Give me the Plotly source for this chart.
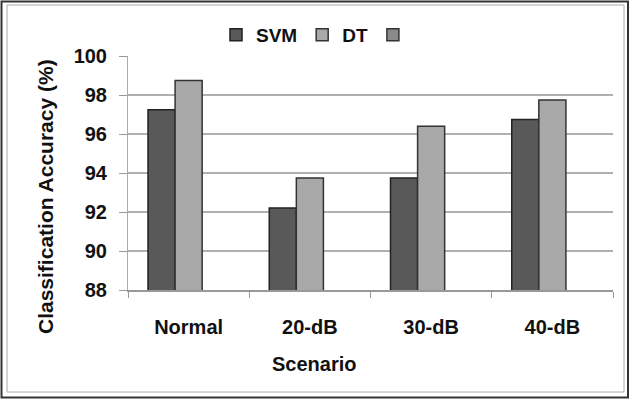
import plotly.graph_objects as go

categories = ["Normal", "20-dB", "30-dB", "40-dB"]
svm = [97.25, 92.2, 93.75, 96.75]
dt = [98.75, 93.75, 96.4, 97.75]
third = [None, None, None, None]
y_ticks = [88, 90, 92, 94, 96, 98, 100]

W, H = 629, 399
L, R, T, B = 128, 16, 56, 109
pw, ph = W - L - R, H - T - B

def px(x):
    return (x - L) / pw

def py(y):
    return (H - B - y) / ph

FONT = "Liberation Sans, Arial, sans-serif"

fig = go.Figure()
fig.add_trace(go.Bar(x=categories, y=svm, name="SVM",
                     marker=dict(color="#595959", line=dict(color="#222", width=1.5))))
fig.add_trace(go.Bar(x=categories, y=dt, name="DT",
                     marker=dict(color="#a9a9a9", line=dict(color="#333", width=1.5))))
fig.add_trace(go.Bar(x=categories, y=third, name=" ",
                     marker=dict(color="#8a8a8a", line=dict(color="#333", width=1.5))))

fig.update_layout(
    width=W, height=H,
    margin=dict(l=L, r=R, t=T, b=B),
    paper_bgcolor="white", plot_bgcolor="white",
    barmode="group", bargap=0.33, bargroupgap=0,
    font=dict(family=FONT, size=18, color="#111", weight="bold"),
    showlegend=True,
    legend=dict(orientation="h", x=px(320), xanchor="center", y=py(35), yanchor="middle",
                font=dict(size=19, weight="bold"), itemwidth=30, traceorder="normal",
                bgcolor="rgba(0,0,0,0)"),
    xaxis=dict(
        type="category", tickson="boundaries", ticks="outside", ticklen=6,
        tickcolor="#999", showline=True, linecolor="#999", linewidth=1.5,
        showgrid=False, tickfont=dict(size=20, weight="bold"),
        ticklabelstandoff=18, fixedrange=True,
    ),
    yaxis=dict(
        range=[88, 100], tickvals=y_ticks, ticks="outside", ticklen=8,
        tickcolor="#999", showline=True, linecolor="#aaa", linewidth=1,
        showgrid=True, gridcolor="#b0b0b0", gridwidth=1.5,
        tickfont=dict(size=20, weight="bold"), ticklabelstandoff=8,
        zeroline=False,
    ),
    annotations=[
        dict(text="Scenario", x=px(314), y=py(364), xref="paper", yref="paper",
             xanchor="center", yanchor="middle", showarrow=False,
             font=dict(size=20, weight="bold")),
        dict(text="Classification Accuracy (%)", x=px(45), y=py(197), xref="paper", yref="paper",
             xanchor="center", yanchor="middle", showarrow=False, textangle=-90,
             font=dict(size=21, weight="bold")),
    ],
    shapes=[
        dict(type="rect", xref="paper", yref="paper", x0=px(1.5), x1=px(628), y0=py(1.5), y1=py(397.5),
             line=dict(color="#333", width=2)),
        dict(type="rect", xref="paper", yref="paper", x0=px(7), x1=px(624), y0=py(5), y1=py(392),
             line=dict(color="#aaa", width=1)),
    ],
)

fig.write_html("out.html")
